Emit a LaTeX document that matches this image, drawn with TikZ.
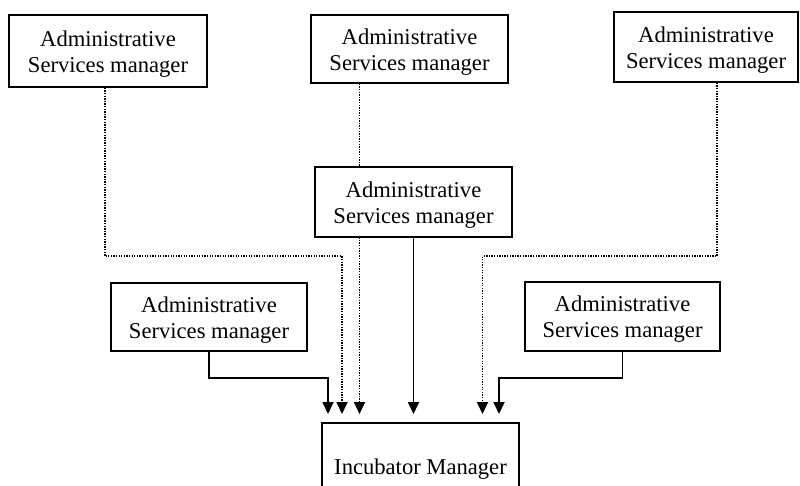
\documentclass[tikz,border=0pt]{standalone}
\usepackage{fontspec}
\setmainfont{Liberation Serif}
\usetikzlibrary{arrows.meta,backgrounds}
\newcommand{\asmtext}{\rule{0pt}{21pt}Administrative\\Services manager}
\tikzset{
  asm/.style={draw, line width=1.7pt, fill=white, align=center,
    minimum width=197pt, minimum height=70pt, inner sep=2pt,
    font=\fontsize{22.6}{26}\selectfont},
  dotline/.style={line width=1.7pt, dash pattern=on 1.3pt off 1.3pt},
  solidline/.style={line width=1.8pt},
}
\begin{document}
\begin{tikzpicture}[x=1pt, y=-1pt, >={Triangle[width=11pt,length=12pt]}]
    \useasboundingbox (0,0) rectangle (800,486);
    % top row
    \node[asm, minimum width=198pt, minimum height=72pt] (lt) at (108,51) {\asmtext};
    \node[asm, minimum height=68pt] (mt) at (409.5,49) {\asmtext};
    \node[asm, minimum width=184pt] (rt) at (706,47) {\asmtext};
    % middle
    \node[asm] (mid) at (413.5,202) {\asmtext};
    % lower row
    \node[asm, minimum width=196pt, minimum height=68pt] (ll) at (209,317) {\asmtext};
    \node[asm, minimum width=195pt, minimum height=69pt] (lr) at (622.5,316.5) {\asmtext};
    % incubator
    \node[asm, minimum height=92pt, anchor=north] (inc) at (420.5,422)
      {Incubator Manager};
    % links
    \begin{scope}[on background layer, shorten >=8pt]
      \draw[solidline,->] (ll.south) -- ++(0,26) -| ([xshift=-92.5pt]inc.north);
      \draw[dotline,->] ([xshift=-3pt]lt.south) -- ++(0,168.5)
        -| ([xshift=-78.5pt]inc.north);
      \draw[dotline,->] ([xshift=-50pt]mt.south) -- ([xshift=-61pt]inc.north);
      \draw[solidline,->] (mid.south) -- ([xshift=-7pt]inc.north);
      \draw[dotline,->] ([xshift=11pt]rt.south) -- ++(0,173.5)
        -| ([xshift=62pt]inc.north);
      \draw[solidline,->] (lr.south) -- ++(0,26) -| ([xshift=78.5pt]inc.north);
    \end{scope}
\end{tikzpicture}
\end{document}
